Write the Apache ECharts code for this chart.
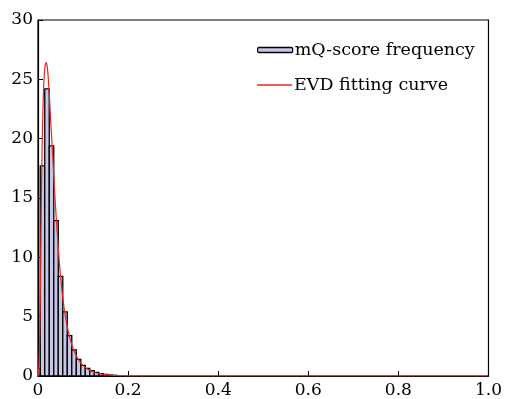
<!DOCTYPE html>
<html>
<head>
<meta charset="utf-8">
<script src="https://cdn.jsdelivr.net/npm/echarts@6/dist/echarts.min.js"></script>
<style>
  html, body { margin: 0; padding: 0; background: #fff; }
  #chart { width: 505px; height: 399px; }
</style>
</head>
<body>
<div id="chart"></div>
<script>
// Гистограмма: центры бинов и частоты
const binCenters = [0, 0.01, 0.02, 0.03, 0.04, 0.05, 0.06, 0.07, 0.08, 0.09,
    0.10, 0.11, 0.12, 0.13, 0.14, 0.15, 0.16, 0.17, 0.18];
const binValues = [0.6, 17.7, 24.2, 19.4, 13.1, 8.4, 5.4, 3.4, 2.2, 1.4,
    0.9, 0.65, 0.45, 0.3, 0.2, 0.13, 0.08, 0.05, 0.03];
const BIN_WIDTH = 0.01;

// Кривая EVD (точки)
const curveX = [0, 0.002, 0.004, 0.006, 0.008, 0.010, 0.012, 0.014, 0.016, 0.018,
    0.020, 0.022, 0.025, 0.028, 0.032, 0.036, 0.040, 0.045, 0.050, 0.055,
    0.060, 0.070, 0.080, 0.090, 0.100, 0.110, 0.120, 0.130, 0.140, 0.150,
    0.170, 0.200, 0.250, 0.300, 0.400, 0.600, 0.800, 1.000];
const curveY = [0, 0.5, 4, 9.5, 16.5, 21, 23.8, 25.4, 26.2, 26.4,
    26.2, 25.5, 23.8, 21.6, 19.0, 16.2, 13.6, 10.8, 8.4, 6.6,
    5.2, 3.3, 2.1, 1.35, 0.88, 0.58, 0.38, 0.25, 0.17, 0.11,
    0.05, 0.015, 0.003, 0.001, 0, 0, 0, 0];

const xTicks = [0, 0.2, 0.4, 0.6, 0.8, 1.0];
const xTickLabels = ['0', '0.2', '0.4', '0.6', '0.8', '1.0'];

const FONT = 'DejaVu Serif';
const BAR_FILL = '#c6c6e6';
const CURVE_COLOR = '#e8281e';

const chart = echarts.init(document.getElementById('chart'));

const histData = binCenters.map((x, i) => [x, binValues[i]]);
const curveData = curveX.map((x, i) => [x, curveY[i]]);

const legendText = { fontFamily: FONT, fontSize: 17.5, color: '#000', padding: [0, 0, 0, -3] };

const option = {
    animation: false,
    backgroundColor: '#fff',
    grid: {
        left: 38,
        right: 14,
        top: 20,
        bottom: 22,
        show: true,
        borderColor: '#000',
        borderWidth: 1.2,
        backgroundColor: 'transparent'
    },
    // Две легенды, чтобы задать разные размеры значков
    legend: [
        {
            left: 252,
            top: 36,
            itemWidth: 35,
            itemHeight: 5,
            selectedMode: false,
            textStyle: legendText,
            data: [{ name: 'mQ-score frequency', icon: 'roundRect',
                itemStyle: { color: BAR_FILL, borderColor: '#000', borderWidth: 1.3 } }]
        },
        {
            left: 252,
            top: 71,
            itemWidth: 35,
            itemHeight: 1.3,
            selectedMode: false,
            textStyle: legendText,
            data: [{ name: 'EVD fitting curve', icon: 'rect',
                itemStyle: { color: CURVE_COLOR, borderColor: CURVE_COLOR, borderWidth: 0 },
                lineStyle: { color: CURVE_COLOR } }]
        }
    ],
    xAxis: {
        type: 'value',
        min: 0,
        max: 1,
        interval: 0.2,
        axisLine: { show: true, lineStyle: { color: '#000', width: 1.2 } },
        axisTick: { show: true, inside: true, length: 5, lineStyle: { color: '#000' } },
        splitLine: { show: false },
        axisLabel: {
            fontFamily: FONT, fontSize: 17, color: '#000', margin: 6,
            formatter: v => {
                const i = xTicks.findIndex(t => Math.abs(t - v) < 1e-9);
                return i >= 0 ? xTickLabels[i] : '';
            }
        }
    },
    yAxis: {
        type: 'value',
        min: 0,
        max: 30,
        interval: 5,
        axisLine: { show: true, lineStyle: { color: '#000', width: 1.2 } },
        axisTick: { show: true, inside: true, length: 5, lineStyle: { color: '#000' } },
        splitLine: { show: false },
        axisLabel: { fontFamily: FONT, fontSize: 17, color: '#000', margin: 5 }
    },
    series: [
        {
            name: 'mQ-score frequency',
            type: 'custom',
            clip: true,
            itemStyle: { color: BAR_FILL },
            renderItem: function (params, api) {
                const x = api.value(0);
                const y = api.value(1);
                const p0 = api.coord([x - BIN_WIDTH / 2, y]);
                const p1 = api.coord([x + BIN_WIDTH / 2, 0]);
                return {
                    type: 'rect',
                    shape: { x: p0[0], y: p0[1], width: p1[0] - p0[0], height: p1[1] - p0[1] },
                    style: { fill: BAR_FILL, stroke: '#000', lineWidth: 1.3 }
                };
            },
            encode: { x: 0, y: 1 },
            data: histData,
            z: 2
        },
        {
            name: 'EVD fitting curve',
            type: 'line',
            smooth: 0.3,
            symbol: 'none',
            clip: true,
            lineStyle: { color: CURVE_COLOR, width: 1.2 },
            itemStyle: { color: CURVE_COLOR },
            data: curveData,
            z: 3
        }
    ]
};

chart.setOption(option);
</script>
</body>
</html>
